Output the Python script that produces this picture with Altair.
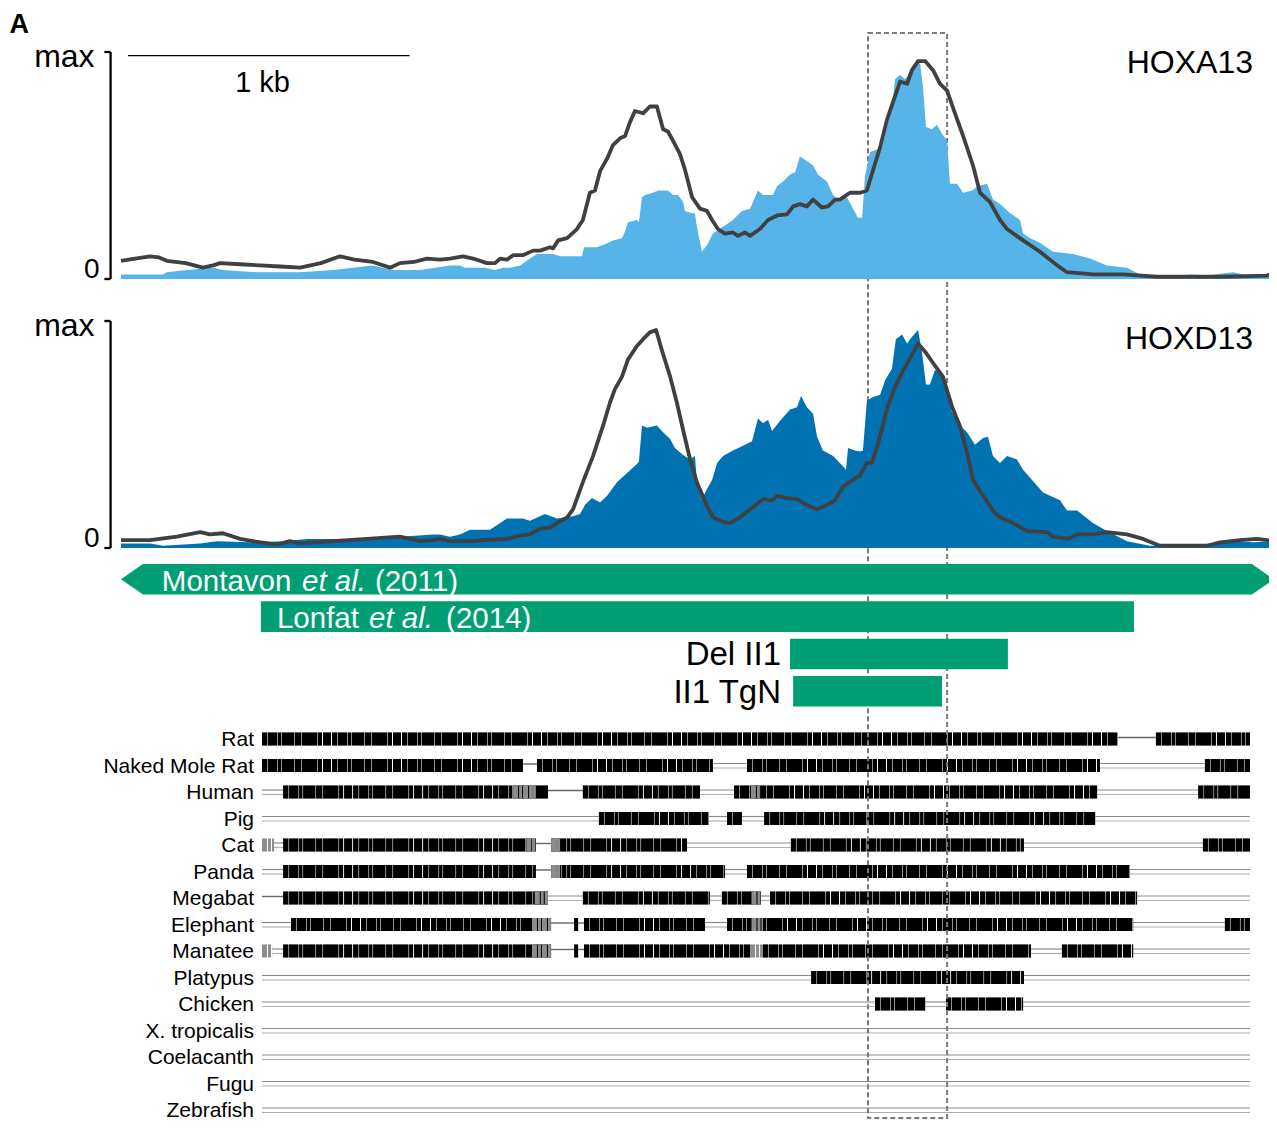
import altair as alt
import pandas as pd

FONT = "Liberation Sans"

# ------------------------------------------------------------------
# DATA  (position in bp from the start of the window, signal in % of track max)
# ------------------------------------------------------------------
HOXA13_CHIP = [(0, 2), (78, 2), (149, 2), (163, 3), (234, 4), (327, 5), (362, 4), (483, 3), (636, 3),
               (753, 4), (895, 6), (966, 4), (1062, 4), (1169, 6), (1204, 6), (1222, 5), (1276, 5),
               (1293, 5), (1329, 4), (1357, 5), (1382, 5), (1418, 6), (1453, 9), (1478, 11), (1535, 11),
               (1560, 10), (1585, 10), (1620, 10), (1638, 10), (1645, 14), (1691, 14), (1713, 15),
               (1748, 17), (1780, 18), (1791, 21), (1801, 25), (1833, 26), (1840, 25), (1851, 36),
               (1862, 37), (1890, 38), (1908, 39), (1943, 39), (1961, 37), (1979, 37), (1997, 34),
               (2004, 30), (2029, 29), (2039, 29), (2046, 23), (2064, 12), (2082, 15), (2103, 20),
               (2139, 23), (2174, 26), (2206, 30), (2235, 31), (2263, 39), (2281, 37), (2316, 37),
               (2331, 41), (2352, 43), (2377, 46), (2395, 47), (2412, 54), (2437, 52), (2459, 50),
               (2476, 46), (2508, 43), (2530, 37), (2554, 34), (2572, 36), (2579, 36), (2601, 31),
               (2618, 27), (2633, 27), (2643, 45), (2661, 56), (2686, 57), (2704, 58), (2721, 67),
               (2739, 75), (2750, 88), (2768, 90), (2785, 88), (2803, 91), (2828, 95), (2839, 95),
               (2849, 85), (2860, 67), (2881, 66), (2899, 68), (2917, 64), (2935, 61), (2945, 42),
               (2970, 42), (2992, 38), (3024, 39), (3045, 41), (3077, 42), (3098, 35), (3123, 33),
               (3159, 29), (3194, 26), (3205, 20), (3230, 18), (3265, 16), (3311, 12), (3382, 11),
               (3443, 9), (3503, 6), (3574, 5), (3620, 2), (3681, 1), (3738, 1), (3798, 2),
               (3858, 1.5), (3951, 3), (4001, 1.5), (4047, 1.5), (4100, 3)]

HOXA13_LINE = [(0, 8), (50, 9), (103, 10), (135, 9.5), (163, 8), (230, 7), (291, 5), (327, 6), (352, 7),
               (423, 6.5), (494, 6), (565, 5.5), (636, 5), (710, 7), (778, 10), (830, 8.5), (895, 7.5),
               (956, 5), (991, 7), (1040, 7.5), (1087, 9), (1133, 8.5), (1169, 9), (1215, 10), (1251, 9),
               (1300, 7), (1329, 7), (1347, 9), (1371, 8.5), (1393, 10.5), (1428, 10.5), (1464, 12.5),
               (1489, 12.5), (1524, 14), (1535, 13.5), (1553, 17), (1585, 18), (1620, 22), (1641, 26),
               (1666, 38), (1684, 39), (1702, 47.5), (1727, 53), (1748, 59), (1773, 62), (1791, 63),
               (1808, 69), (1826, 74), (1855, 73), (1879, 76), (1904, 76), (1926, 66), (1943, 65),
               (1961, 61), (1986, 55), (2004, 48), (2029, 36), (2057, 31), (2082, 30), (2100, 26),
               (2121, 22), (2146, 20), (2174, 20.5), (2192, 19), (2217, 20.5), (2235, 19), (2270, 22),
               (2299, 26), (2331, 28), (2366, 28.5), (2388, 32), (2412, 33), (2437, 32), (2459, 35),
               (2490, 31.5), (2512, 32), (2537, 35), (2554, 35), (2572, 36.5), (2590, 38), (2626, 38),
               (2650, 39), (2672, 48), (2697, 58), (2721, 70), (2743, 78), (2768, 87), (2793, 86),
               (2810, 92), (2832, 96), (2857, 96), (2885, 92), (2910, 86), (2935, 83), (2963, 73),
               (2992, 63), (3027, 50), (3052, 38), (3087, 34), (3123, 26), (3148, 22), (3205, 17),
               (3265, 12), (3326, 6), (3361, 3), (3453, 2), (3560, 2), (3681, 1), (3798, 1), (3915, 1),
               (4072, 1.5), (4100, 3)]

HOXD13_CHIP = [(0, 2), (103, 2), (149, 1), (281, 2), (341, 3), (458, 2.5), (576, 3), (661, 4), (753, 4),
               (874, 4), (991, 5), (1109, 6), (1133, 6), (1169, 5), (1204, 6), (1240, 8), (1311, 8),
               (1347, 11), (1371, 13), (1428, 13), (1453, 12), (1506, 15), (1549, 13), (1606, 14),
               (1631, 15), (1649, 19), (1673, 22), (1702, 20), (1727, 23), (1762, 29), (1798, 33),
               (1833, 37), (1840, 38), (1851, 54), (1869, 53), (1904, 54), (1926, 51), (1951, 48),
               (1968, 44), (1997, 41), (2022, 39), (2039, 40.5), (2046, 30), (2064, 21.5), (2082, 26),
               (2100, 30), (2118, 37.5), (2139, 40.5), (2174, 43), (2210, 45), (2242, 47), (2263, 57),
               (2281, 55), (2299, 56.5), (2313, 51.5), (2341, 56), (2377, 61), (2402, 62), (2416, 67),
               (2437, 62), (2459, 59), (2473, 49), (2494, 43), (2530, 40.5), (2565, 36), (2576, 34.5),
               (2583, 44), (2608, 43), (2626, 42.5), (2636, 43), (2650, 65), (2672, 66.5), (2697, 67.5),
               (2715, 74), (2739, 79), (2753, 92), (2775, 94), (2793, 90), (2803, 92), (2832, 96),
               (2846, 86), (2860, 72), (2874, 72), (2892, 78.5), (2920, 75.5), (2952, 60), (2981, 54),
               (3006, 51), (3034, 45.5), (3063, 48.5), (3080, 49), (3098, 40.5), (3123, 37.5),
               (3148, 40.5), (3183, 39), (3205, 34.5), (3240, 29.5), (3276, 24.5), (3336, 21),
               (3361, 16.5), (3397, 16.5), (3453, 11), (3503, 7.5), (3574, 3), (3656, 1), (3752, 1),
               (3809, 1), (3869, 2), (3965, 3), (4022, 2.5), (4100, 3)]

HOXD13_LINE = [(0, 3.5), (103, 3.5), (199, 5), (281, 7), (316, 6), (362, 6.5), (423, 4), (469, 3),
               (554, 1.5), (600, 3), (636, 2), (753, 3), (874, 4), (991, 5), (1062, 3), (1109, 3.5),
               (1133, 4), (1169, 3), (1251, 3), (1286, 3.5), (1371, 4), (1418, 5.5), (1453, 6),
               (1489, 8.5), (1524, 9), (1549, 11), (1585, 13.5), (1606, 17), (1641, 29), (1677, 40.5),
               (1713, 54), (1737, 64), (1755, 70), (1780, 75.5), (1801, 83), (1833, 89), (1855, 92),
               (1879, 95), (1901, 96), (1922, 87), (1951, 75.5), (1975, 64), (1997, 52), (2022, 39),
               (2046, 29), (2082, 18.5), (2103, 13.5), (2139, 11.5), (2164, 11), (2199, 13.5),
               (2235, 17), (2281, 21.5), (2313, 21), (2331, 23), (2366, 22), (2402, 21.5), (2437, 19),
               (2473, 17), (2508, 19), (2537, 21), (2565, 27), (2601, 30), (2626, 32), (2650, 37.5),
               (2668, 37.5), (2690, 46), (2721, 61), (2750, 71), (2778, 78), (2803, 83.5), (2832, 90),
               (2857, 86.5), (2885, 81.5), (2920, 75.5), (2952, 62.5), (2981, 53.5), (3006, 42),
               (3027, 30), (3063, 23), (3098, 16.5), (3123, 13.5), (3169, 11), (3219, 7.5), (3290, 7),
               (3311, 5), (3365, 4), (3397, 6), (3453, 6), (3503, 7), (3574, 6), (3631, 4), (3691, 1),
               (3809, 1), (3858, 1), (3905, 2.5), (3976, 3.5), (4036, 4), (4100, 3)]

# regions (bp); Montavon is drawn as a double-headed arrow
MONTAVON = (0, 78, 4018, 4096)
REGIONS = [("Lonfat", 1, 497, 3599), ("Del II1", 2, 2377, 3151), ("II1 TgN", 3, 2388, 2917)]
HIGHLIGHT = (2654, 2935)
SCALE_BAR = (25, 1025)

SPECIES = ["Rat", "Naked Mole Rat", "Human", "Pig", "Cat", "Panda", "Megabat", "Elephant",
           "Manatee", "Platypus", "Chicken", "X. tropicalis", "Coelacanth", "Fugu", "Zebrafish"]

# alignment segments: B = conserved block, G = grey block, S = single-line gap, D = unaligned (double line)
ALIGN = {
    "Rat": [(501, 3542, "B"), (3542, 3677, "S"), (3677, 4011, "B")],
    "Naked Mole Rat": [(501, 1428, "B"), (1428, 1478, "S"), (1478, 2103, "B"), (2103, 2224, "D"),
                       (2224, 3478, "B"), (3478, 3851, "D"), (3851, 4011, "B")],
    "Human": [(501, 576, "D"), (576, 1517, "B"), (1517, 1641, "S"), (1641, 2057, "B"), (2057, 2178, "D"),
              (2178, 3468, "B"), (3468, 3827, "D"), (3827, 4011, "B"), (1393, 1474, "G"), (2238, 2274, "G")],
    "Pig": [(501, 1698, "D"), (1698, 2089, "B"), (2089, 2153, "D"), (2153, 2206, "B"), (2206, 2285, "D"),
            (2285, 3461, "B"), (3461, 4011, "D")],
    "Cat": [(501, 544, "G"), (544, 576, "D"), (576, 1474, "B"), (1474, 1528, "S"), (1528, 2011, "B"),
            (2011, 2380, "D"), (2380, 3208, "B"), (3208, 3844, "D"), (3844, 4011, "B"),
            (1440, 1474, "G"), (1528, 1560, "G")],
    "Panda": [(501, 576, "D"), (576, 1474, "B"), (1474, 1528, "S"), (1528, 2146, "B"), (2146, 2224, "D"),
              (2224, 3585, "B"), (3585, 4011, "D"), (1528, 1567, "G")],
    "Megabat": [(501, 576, "S"), (576, 1517, "B"), (1517, 1641, "D"), (1641, 2092, "B"), (2092, 2135, "D"),
                (2135, 2274, "B"), (2274, 2306, "D"), (2306, 3610, "B"), (3610, 4011, "D"),
                (1470, 1517, "G"), (2240, 2274, "G")],
    "Elephant": [(501, 604, "D"), (604, 1528, "B"), (1528, 1610, "S"), (1610, 1624, "B"), (1624, 1645, "S"),
                 (1645, 2075, "B"), (2075, 2153, "D"), (2153, 3596, "B"), (3596, 3922, "D"),
                 (3922, 4011, "B"), (1460, 1528, "G"), (2240, 2281, "G")],
    "Manatee": [(501, 537, "G"), (537, 576, "D"), (576, 1528, "B"), (1528, 1610, "S"), (1610, 1624, "B"),
                (1624, 1645, "S"), (1645, 2235, "B"), (2235, 2281, "G"), (2281, 3233, "B"),
                (3233, 3343, "D"), (3343, 3596, "B"), (3596, 4011, "D"), (1460, 1528, "G")],
    "Platypus": [(501, 2452, "D"), (2452, 3208, "B"), (3208, 4011, "D")],
    "Chicken": [(501, 2679, "D"), (2679, 2857, "B"), (2857, 2931, "D"), (2931, 3205, "B"), (3205, 4011, "D")],
    "X. tropicalis": [(501, 4011, "D")],
    "Coelacanth": [(501, 4011, "D")],
    "Fugu": [(501, 4011, "D")],
    "Zebrafish": [(501, 4011, "D")],
}

# colours
SKY = "#56B4E9"
BLUE = "#0072B2"
GREEN = "#009E73"
LINE = "#404040"

# ------------------------------------------------------------------
# SCALES
# ------------------------------------------------------------------
W, H = 1261, 1112
XS = alt.Scale(domain=[0, 4100], range=[113, 1267])
Y1 = alt.Scale(domain=[0, 100], range=[271, 44])
Y2 = alt.Scale(domain=[0, 100], range=[540, 313])
YG = alt.Scale(domain=[0, 3], range=[571.3, 683.3])
YS = alt.Scale(type="point", domain=SPECIES, range=[731, 1102], padding=0)


def xe(field="pos"):
    return alt.X(f"{field}:Q", scale=XS, axis=None)


def pairs(p):
    return pd.DataFrame({"pos": [a for a, _ in p], "val": [b for _, b in p]})


layers = []

# ---- conservation rows ----
rows = []
for sp, segs in ALIGN.items():
    for s, e, k in segs:
        rows.append({"sp": sp, "start": s, "end": e, "kind": k})
al = pd.DataFrame(rows)
sp_y = alt.Y("sp:N", scale=YS, axis=None)

dbl = alt.Chart(al[al.kind == "D"])
layers.append(dbl.mark_rule(color="#8a8a8a", strokeWidth=1.2, yOffset=-2).encode(
    x=xe("start"), x2="end:Q", y=sp_y))
layers.append(dbl.mark_rule(color="#b0b0b0", strokeWidth=1.2, yOffset=2.5).encode(
    x=xe("start"), x2="end:Q", y=sp_y))
layers.append(alt.Chart(al[al.kind == "S"]).mark_rule(color="#666666", strokeWidth=1.4, yOffset=-1.5).encode(
    x=xe("start"), x2="end:Q", y=sp_y))
blk = alt.Chart(al[al.kind == "B"])
layers.append(blk.mark_rule(color="#8f8f8f", strokeWidth=13, strokeDash=[17, 1, 6, 1, 11, 1, 23, 1, 8, 1]).encode(
    x=xe("start"), x2="end:Q", y=sp_y))
layers.append(blk.mark_rule(color="#000000", strokeWidth=13,
                            strokeDash=[5, 1, 9, 1, 3, 1, 12, 1, 6, 1, 15, 1, 4, 1, 8, 1]).encode(
    x=xe("start"), x2="end:Q", y=sp_y))
layers.append(alt.Chart(al[al.kind == "G"]).mark_rule(
    color="#8c8c8c", strokeWidth=13, strokeDash=[5, 1, 3, 1]).encode(
    x=xe("start"), x2="end:Q", y=sp_y))

sp_lab = pd.DataFrame({"sp": SPECIES, "pos": [501] * len(SPECIES)})
layers.append(alt.Chart(sp_lab).mark_text(
    align="right", baseline="middle", dx=-8, dy=1, font=FONT, fontSize=21, color="#000000").encode(
    x=xe(), y=sp_y, text="sp:N"))

# ---- highlight box ----
hl = pd.DataFrame({"start": [HIGHLIGHT[0]], "end": [HIGHLIGHT[1]]})
layers.append(alt.Chart(hl).mark_rect(
    fillOpacity=0, stroke="#7a7a7a", strokeWidth=2, strokeDash=[5, 3]).encode(
    x=xe("start"), x2="end:Q", y=alt.value(25), y2=alt.value(1110)))

# ---- signal tracks ----
for chip, line, col, ys in [(HOXA13_CHIP, HOXA13_LINE, SKY, Y1), (HOXD13_CHIP, HOXD13_LINE, BLUE, Y2)]:
    layers.append(alt.Chart(pairs(chip)).mark_area(color=col, opacity=1, interpolate="linear").encode(
        x=xe(), y=alt.Y("val:Q", scale=ys, axis=None)))
    layers.append(alt.Chart(pairs(line)).mark_line(
        color=LINE, strokeWidth=3.8, strokeJoin="round", interpolate="linear").encode(
        x=xe(), y=alt.Y("val:Q", scale=ys, axis=None)))
    br = pd.DataFrame({"pos": [-37, -59, -59], "pos2": [-37, -37, -37],
                       "val": [0, 0, 100], "val2": [100, 0, 100]})
    layers.append(alt.Chart(br).mark_rule(color="#000000", strokeWidth=2.3).encode(
        x=xe(), x2="pos2:Q", y=alt.Y("val:Q", scale=ys, axis=None), y2="val2:Q"))
    layers.append(alt.Chart(pd.DataFrame({"pos": [-37], "val": [100], "t": ["max"]})).mark_text(
        align="right", baseline="alphabetic", dx=-16, dy=15, font=FONT, fontSize=32, color="#000000").encode(
        x=xe(), y=alt.Y("val:Q", scale=ys, axis=None), text="t:N"))
    layers.append(alt.Chart(pd.DataFrame({"pos": [-37], "val": [0], "t": ["0"]})).mark_text(
        align="right", baseline="alphabetic", dx=-11, dy=-1, font=FONT, fontSize=28, color="#000000").encode(
        x=xe(), y=alt.Y("val:Q", scale=ys, axis=None), text="t:N"))

# track names
layers.append(alt.Chart(pd.DataFrame({"pos": [4022], "val": [90.6], "t": ["HOXA13"]})).mark_text(
    align="right", baseline="alphabetic", font=FONT, fontSize=32, color="#000000").encode(
    x=xe(), y=alt.Y("val:Q", scale=Y1, axis=None), text="t:N"))
layers.append(alt.Chart(pd.DataFrame({"pos": [4022], "val": [87.5], "t": ["HOXD13"]})).mark_text(
    align="right", baseline="alphabetic", font=FONT, fontSize=32, color="#000000").encode(
    x=xe(), y=alt.Y("val:Q", scale=Y2, axis=None), text="t:N"))

# scale bar
layers.append(alt.Chart(pd.DataFrame({"pos": [SCALE_BAR[0]], "pos2": [SCALE_BAR[1]], "val": [98.4]})).mark_rule(
    color="#000000", strokeWidth=1.3).encode(x=xe(), x2="pos2:Q", y=alt.Y("val:Q", scale=Y1, axis=None)))
layers.append(alt.Chart(pd.DataFrame({"pos": [503], "val": [82.2], "t": ["1 kb"]})).mark_text(
    align="center", baseline="alphabetic", font=FONT, fontSize=29, color="#000000").encode(
    x=xe(), y=alt.Y("val:Q", scale=Y1, axis=None), text="t:N"))

# panel letter
layers.append(alt.Chart(pd.DataFrame({"pos": [-396], "val": [108.4], "t": ["A"]})).mark_text(
    align="left", baseline="alphabetic", font=FONT, fontSize=27, fontWeight="bold", color="#000000").encode(
    x=xe(), y=alt.Y("val:Q", scale=Y1, axis=None), text="t:N"))

# ---- region bars ----
arrow = pd.DataFrame({"pos": list(MONTAVON), "top": [0, -0.41, -0.41, 0], "bot": [0, 0.41, 0.41, 0]})
layers.append(alt.Chart(arrow).mark_area(color=GREEN, opacity=1).encode(
    x=xe(), y=alt.Y("top:Q", scale=YG, axis=None), y2="bot:Q"))
reg = pd.DataFrame({"name": [r[0] for r in REGIONS], "row": [r[1] for r in REGIONS],
                    "start": [r[2] for r in REGIONS], "end": [r[3] for r in REGIONS]})
reg["top"] = reg["row"] - 0.41
reg["bot"] = reg["row"] + 0.41
layers.append(alt.Chart(reg).mark_rect(color=GREEN, opacity=1).encode(
    x=xe("start"), x2="end:Q", y=alt.Y("top:Q", scale=YG, axis=None), y2="bot:Q"))

# labels inside bars (white, "et al." italic)
in_norm = pd.DataFrame({"pos": [145, 902, 554, 1155], "row": [0, 0, 1, 1],
                        "t": ["Montavon", "(2011)", "Lonfat", "(2014)"]})
in_ital = pd.DataFrame({"pos": [643, 881], "row": [0, 1], "t": ["et al.", "et al."]})
layers.append(alt.Chart(in_norm).mark_text(
    align="left", baseline="alphabetic", dy=11.5, font=FONT, fontSize=29.5, color="#ffffff").encode(
    x=xe(), y=alt.Y("row:Q", scale=YG, axis=None), text="t:N"))
layers.append(alt.Chart(in_ital).mark_text(
    align="left", baseline="alphabetic", dy=11.5, font=FONT, fontSize=29.5, fontStyle="italic",
    color="#ffffff").encode(
    x=xe(), y=alt.Y("row:Q", scale=YG, axis=None), text="t:N"))
out_lab = pd.DataFrame({"pos": [2377, 2377], "row": [2, 3], "t": ["Del II1", "II1 TgN"]})
layers.append(alt.Chart(out_lab).mark_text(
    align="right", baseline="alphabetic", dx=-9, dy=11.5, font=FONT, fontSize=33, color="#000000").encode(
    x=xe(), y=alt.Y("row:Q", scale=YG, axis=None), text="t:N"))

chart = alt.layer(*layers).resolve_scale(y="independent").properties(
    width=W, height=H, padding=0, autosize=alt.AutoSizeParams(type="none"),
    background="#ffffff",
).configure_view(stroke=None)

chart.save("out.html", embed_options={"renderer": "svg", "actions": False})
